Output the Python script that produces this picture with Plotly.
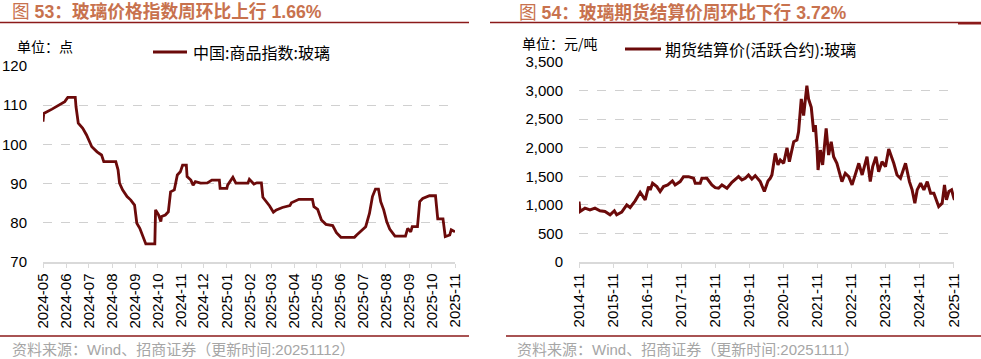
import plotly.graph_objects as go

# ---------------- data ----------------
glass_idx_dates = [
    "2024-05-01", "2024-05-02", "2024-05-13", "2024-05-19", "2024-05-26", "2024-05-30",
    "2024-06-03", "2024-06-13", "2024-06-14", "2024-06-17", "2024-06-23", "2024-06-28",
    "2024-07-05", "2024-07-12", "2024-07-18", "2024-07-21", "2024-08-06", "2024-08-09",
    "2024-08-11", "2024-08-15", "2024-08-21", "2024-08-26", "2024-08-31", "2024-09-03",
    "2024-09-07", "2024-09-11", "2024-09-15", "2024-09-27", "2024-09-28", "2024-10-02",
    "2024-10-05", "2024-10-06", "2024-10-11", "2024-10-15", "2024-10-18", "2024-10-23",
    "2024-10-27", "2024-10-31", "2024-11-03", "2024-11-08", "2024-11-09", "2024-11-14",
    "2024-11-17", "2024-11-20", "2024-11-27", "2024-12-06", "2024-12-12", "2024-12-22",
    "2024-12-23", "2025-01-01", "2025-01-02", "2025-01-09", "2025-01-13", "2025-01-29",
    "2025-01-31", "2025-02-06", "2025-02-10", "2025-02-16", "2025-02-18", "2025-02-27",
    "2025-03-04", "2025-03-08", "2025-03-16", "2025-03-26", "2025-03-28", "2025-04-07",
    "2025-04-25", "2025-04-27", "2025-05-02", "2025-05-07", "2025-05-13", "2025-05-22",
    "2025-05-27", "2025-06-02", "2025-06-20", "2025-06-23", "2025-06-28", "2025-07-05",
    "2025-07-10", "2025-07-14", "2025-07-18", "2025-07-22", "2025-07-25", "2025-07-29",
    "2025-08-02", "2025-08-06", "2025-08-13", "2025-08-27", "2025-08-30", "2025-09-03",
    "2025-09-05", "2025-09-12", "2025-09-15", "2025-09-19", "2025-09-28", "2025-10-06",
    "2025-10-09", "2025-10-16", "2025-10-19", "2025-10-25", "2025-10-27", "2025-11-01",
]
glass_idx_values = [
    105.8, 107.9, 109.0, 109.6, 110.3, 110.9,
    112.0, 112.0, 109.6, 105.4, 104.1, 102.4,
    99.4, 98.1, 97.3, 95.6, 95.6, 93.5,
    90.1, 88.4, 86.7, 85.8, 84.5, 79.9,
    78.6, 76.5, 74.6, 74.6, 83.3, 82.0,
    80.3, 81.6, 82.0, 82.8, 87.9, 88.4,
    92.2, 93.0, 94.7, 94.7, 91.8, 90.9,
    89.6, 90.5, 90.1, 90.2, 90.9, 90.9,
    88.8, 88.8, 89.6, 91.6, 90.1, 90.1,
    91.1, 89.9, 90.2, 90.2, 86.5, 84.3,
    82.7, 83.3, 83.9, 84.4, 85.1, 86.0,
    86.0, 84.1, 83.4, 80.7, 79.6, 79.3,
    77.5, 76.3, 76.3, 76.9, 77.7, 79.0,
    82.4, 86.7, 88.6, 88.6, 85.4, 83.3,
    80.3, 78.4, 76.6, 76.6, 78.6, 77.7,
    79.0, 79.0, 85.4, 86.2, 86.9, 86.9,
    81.0, 81.0, 76.5, 76.9, 78.2, 77.7,
]

fut_dates = [
    "2014-11-01", "2014-11-12", "2015-01-04", "2015-02-27", "2015-04-21", "2015-06-14",
    "2015-08-07", "2015-09-30", "2015-11-15", "2015-12-10", "2016-02-02", "2016-03-27",
    "2016-05-02", "2016-06-25", "2016-08-18", "2016-10-11", "2016-11-16", "2016-12-04",
    "2016-12-29", "2017-02-13", "2017-03-20", "2017-04-25", "2017-06-10", "2017-07-30",
    "2017-08-28", "2017-10-21", "2017-11-26", "2018-01-19", "2018-03-14", "2018-04-01",
    "2018-05-24", "2018-06-11", "2018-08-04", "2018-09-26", "2018-11-01", "2018-12-07",
    "2019-01-12", "2019-03-07", "2019-04-29", "2019-07-09", "2019-08-14", "2019-09-19",
    "2019-10-24", "2019-11-29", "2020-01-04", "2020-02-27", "2020-04-11", "2020-05-20",
    "2020-06-13", "2020-07-01", "2020-08-06", "2020-09-04", "2020-09-29", "2020-11-04",
    "2020-12-10", "2021-01-04", "2021-02-20", "2021-03-26", "2021-04-13", "2021-05-12",
    "2021-06-06", "2021-06-24", "2021-07-11", "2021-07-29", "2021-08-27", "2021-09-22",
    "2021-10-10", "2021-10-28", "2021-11-08", "2021-12-03", "2021-12-27", "2022-02-03",
    "2022-03-01", "2022-03-29", "2022-04-24", "2022-05-29", "2022-07-05", "2022-07-22",
    "2022-08-27", "2022-10-03", "2022-11-08", "2022-12-13", "2023-01-19", "2023-02-24",
    "2023-04-17", "2023-05-22", "2023-06-17", "2023-07-22", "2023-08-20", "2023-09-25",
    "2023-11-01", "2023-12-06", "2024-01-04", "2024-01-29", "2024-03-04", "2024-04-10",
    "2024-06-03", "2024-07-15", "2024-08-13", "2024-09-11", "2024-10-06", "2024-11-12",
    "2024-12-17", "2025-01-22", "2025-02-27", "2025-04-03", "2025-05-25", "2025-07-01",
    "2025-07-26", "2025-08-16", "2025-09-11", "2025-10-10", "2025-11-04", "2025-11-11",
]
fut_values = [
    1058, 884, 942, 913, 942, 895,
    884, 826, 895, 826, 872, 1000,
    953, 1070, 1221, 1087, 1320, 1262,
    1378, 1320, 1233, 1320, 1349, 1419,
    1349, 1407, 1494, 1494, 1465, 1378,
    1378, 1465, 1465, 1349, 1302, 1291,
    1349, 1291, 1395, 1494, 1436, 1465,
    1523, 1453, 1512, 1407, 1233, 1419,
    1465, 1523, 1901, 1698, 1785, 1727,
    2000, 1756, 2105, 2134, 2279, 2855,
    2564, 2797, 3087, 2855, 2709, 2279,
    2395, 1988, 1610, 1959, 1698, 2337,
    1872, 2105, 1843, 1727, 1523, 1407,
    1552, 1494, 1349, 1523, 1727, 1523,
    1843, 1407, 1669, 1843, 1581, 1756,
    1669, 1977, 1843, 1727, 1523, 1465,
    1727, 1407, 1262, 1029, 1262, 1378,
    1262, 1407, 1203, 1203, 971, 1029,
    1349, 1087, 1233, 1262, 1116, 1087,
]

left_tickvals = ["2024-05-01", "2024-06-01", "2024-07-01", "2024-08-01", "2024-09-01",
                 "2024-10-01", "2024-11-01", "2024-12-01", "2025-01-01", "2025-02-01",
                 "2025-03-01", "2025-04-01", "2025-05-01", "2025-06-01", "2025-07-01",
                 "2025-08-01", "2025-09-01", "2025-10-01", "2025-11-01"]
left_ticktext = ["2024-05", "2024-06", "2024-07", "2024-08", "2024-09", "2024-10",
                 "2024-11", "2024-12", "2025-01", "2025-02", "2025-03", "2025-04",
                 "2025-05", "2025-06", "2025-07", "2025-08", "2025-09", "2025-10", "2025-11"]
right_tickvals = ["2014-11-01", "2015-11-01", "2016-11-01", "2017-11-01", "2018-11-01",
                  "2019-11-01", "2020-11-01", "2021-11-01", "2022-11-01", "2023-11-01",
                  "2024-11-01", "2025-11-01"]
right_ticktext = ["2014-11", "2015-11", "2016-11", "2017-11", "2018-11", "2019-11",
                  "2020-11", "2021-11", "2022-11", "2023-11", "2024-11", "2025-11"]

left_title = "图 <b>53：玻璃价格指数周环比上行 1.66%</b>"
right_title = "图 <b>54：玻璃期货结算价周环比下行 3.72%</b>"
left_unit = "单位：点"
right_unit = "单位：元/吨"
left_legend = "中国:商品指数:玻璃"
right_legend = "期货结算价(活跃合约):玻璃"
left_source = "资料来源：Wind、招商证券（更新时间:20251112）"
right_source = "资料来源：Wind、招商证券（更新时间:20251111）"

# ---------------- style ----------------
W, H = 981, 359
LINE = "#6B0A0A"
TITLE_C = "#C8724E"
RULE = "#8B1A1A"
GRID = "#D0D0D0"
FONT = "Liberation Sans, Noto Sans CJK SC, sans-serif"
CJK = "Noto Sans CJK SC, Liberation Sans, sans-serif"


def px(x):
    return x / W


def py(y):
    return 1 - y / H


fig = go.Figure()
fig.add_trace(go.Scatter(x=glass_idx_dates, y=glass_idx_values, mode="lines",
                         line=dict(color=LINE, width=2.8), xaxis="x", yaxis="y",
                         showlegend=False, hoverinfo="skip"))
fig.add_trace(go.Scatter(x=fut_dates, y=fut_values, mode="lines",
                         line=dict(color=LINE, width=3), xaxis="x2", yaxis="y2",
                         showlegend=False, hoverinfo="skip"))

xcommon = dict(type="date", showgrid=False, showline=True, linecolor="#D9D9D9",
               linewidth=1.5, ticks="outside", ticklen=4, tickcolor="#D9D9D9",
               tickangle=-90, tickfont=dict(family=FONT, size=15, color="#000"),
               zeroline=False, fixedrange=True, automargin=False)
ycommon = dict(showgrid=True, gridcolor=GRID, griddash="dash", gridwidth=1,
               showline=False, zeroline=False, ticks="outside", ticklen=12,
               tickcolor="rgba(0,0,0,0)", tickfont=dict(family=FONT, size=15, color="#000"),
               fixedrange=True, automargin=False)

fig.update_layout(
    width=W, height=H, margin=dict(l=0, r=0, t=0, b=0, autoexpand=False),
    paper_bgcolor="white", plot_bgcolor="white", showlegend=False,
    xaxis=dict(xcommon, domain=[px(43), px(455)], anchor="y",
               range=["2024-05-01", "2025-11-01"],
               tickvals=left_tickvals, ticktext=left_ticktext),
    yaxis=dict(ycommon, domain=[py(262), py(66)], anchor="x", range=[70, 120],
               tickvals=[70, 80, 90, 100, 110, 120]),
    xaxis2=dict(xcommon, domain=[px(579), px(954)], anchor="y2",
                range=["2014-11-01", "2025-11-05"],
                tickvals=right_tickvals, ticktext=right_ticktext),
    yaxis2=dict(ycommon, domain=[py(262), py(62)], anchor="x2", range=[0, 3500],
                tickvals=[0, 500, 1000, 1500, 2000, 2500, 3000, 3500], tickformat=","),
)

shapes = []
# title rules
shapes.append(dict(type="line", xref="paper", yref="paper", x0=px(0), x1=px(469),
                   y0=py(22.5), y1=py(22.5), line=dict(color=RULE, width=1.3)))
shapes.append(dict(type="line", xref="paper", yref="paper", x0=px(490), x1=px(981),
                   y0=py(22.5), y1=py(22.5), line=dict(color=RULE, width=1.3)))
shapes.append(dict(type="line", xref="paper", yref="paper", x0=px(958), x1=px(981),
                   y0=py(23.5), y1=py(23.5), line=dict(color=RULE, width=2)))
# bottom rules
shapes.append(dict(type="line", xref="paper", yref="paper", x0=px(0), x1=px(469),
                   y0=py(336), y1=py(336), line=dict(color=RULE, width=1.3)))
shapes.append(dict(type="line", xref="paper", yref="paper", x0=px(506), x1=px(981),
                   y0=py(336), y1=py(336), line=dict(color=RULE, width=1.3)))
# legend samples
shapes.append(dict(type="line", xref="paper", yref="paper", x0=px(153), x1=px(187),
                   y0=py(52), y1=py(52), line=dict(color=LINE, width=3)))
shapes.append(dict(type="line", xref="paper", yref="paper", x0=px(625), x1=px(661),
                   y0=py(49), y1=py(49), line=dict(color=LINE, width=3)))
fig.update_layout(shapes=shapes)

ann = []


def text(x, y, s, size, color="#000", family=CJK):
    ann.append(dict(xref="paper", yref="paper", x=px(x), y=py(y), text=s,
                    showarrow=False, xanchor="left", yanchor="middle",
                    font=dict(family=family, size=size, color=color)))


text(10, 12, left_title, 17.7, TITLE_C, FONT)
text(517, 12, right_title, 17.7, TITLE_C, FONT)
text(15, 46, left_unit, 14)
text(520, 43, right_unit, 14)
text(191, 52, left_legend, 16)
text(663, 49, right_legend, 16)
text(10, 349, left_source, 15, "#A6A6A6", FONT)
text(515, 349, right_source, 15, "#A6A6A6", FONT)
fig.update_layout(annotations=ann)

fig.write_html("out.html",
               config={"displayModeBar": False, "staticPlot": True},
               post_script="document.body.style.margin='0px';"
                           "document.body.style.overflow='hidden';")
